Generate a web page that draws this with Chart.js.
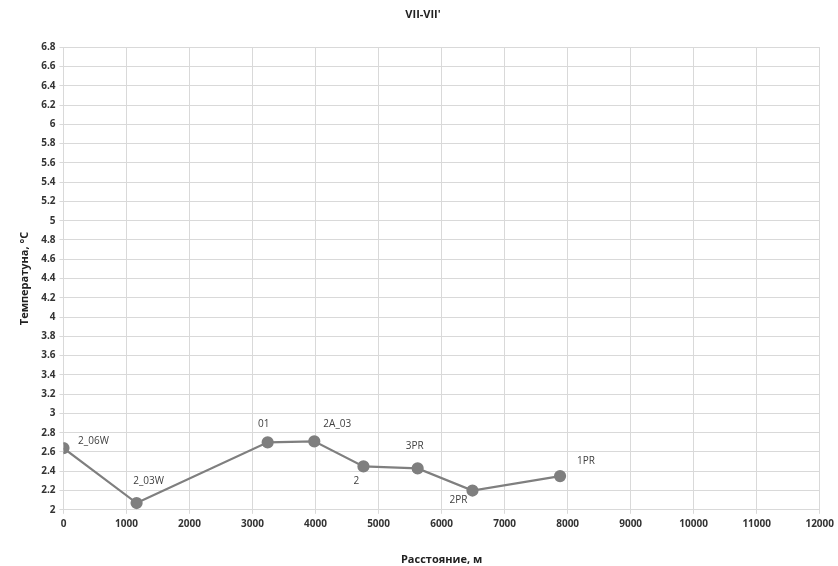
<!DOCTYPE html>
<html>
<head>
<meta charset="utf-8">
<script src="https://cdn.jsdelivr.net/npm/chart.js@4"></script>
<style>
  body { margin: 0; background: #fff; }
  #wrap { width: 838px; height: 566px; }
</style>
</head>
<body>
<div id="wrap"><canvas id="profile" width="838" height="566"></canvas></div>
<script>
// data
const wells = ["2_06W", "2_03W", "01", "2A_03", "2", "3PR", "2PR", "1PR"];
const distance = [0, 1160, 3240, 3980, 4760, 5620, 6490, 7880];
const temperature = [2.64, 2.07, 2.70, 2.71, 2.45, 2.43, 2.20, 2.35];

// where each name sits relative to its point (px)
const labelOffsets = [[30, -7], [12, -22], [-4, -18], [23, -17], [-7, 15], [-3, -22], [-14, 10], [26, -15]];

const pointNames = {
    id: 'pointNames',
    afterDatasetsDraw(chart) {
        const ctx = chart.ctx;
        const meta = chart.getDatasetMeta(0);
        ctx.save();
        ctx.font = '10px "Open Sans", sans-serif';
        ctx.fillStyle = '#404040';
        ctx.textAlign = 'center';
        ctx.textBaseline = 'middle';
        meta.data.forEach(function (pt, i) {
            ctx.fillText(wells[i], pt.x + labelOffsets[i][0], pt.y + labelOffsets[i][1]);
        });
        ctx.restore();
    }
};

new Chart(document.getElementById("profile"), {
    type: 'scatter',
    data: {
        datasets: [{
            label: "VII-VII'",
            data: distance.map(function (d, i) { return { x: d, y: temperature[i] }; }),
            showLine: true,
            borderColor: '#7f7f7f',
            backgroundColor: '#7f7f7f',
            borderWidth: 2.2,
            pointRadius: 5,
            pointHoverRadius: 5
        }]
    },
    options: {
        responsive: false,
        animation: false,
        layout: { padding: { left: 18, right: 10, top: 4, bottom: 0 } },
        plugins: {
            legend: { display: false },
            tooltip: { enabled: false },
            title: {
                display: true,
                text: "VII-VII'",
                color: '#222',
                font: { family: '"Open Sans", sans-serif', size: 11, weight: 'bold' },
                padding: { top: 4, bottom: 26 }
            }
        },
        scales: {
            x: {
                type: 'linear',
                min: 0,
                max: 12000,
                ticks: {
                    stepSize: 1000,
                    color: '#333',
                    font: { family: '"Open Sans", sans-serif', size: 10, weight: 'bold' },
                    padding: 4,
                    callback: function (v) { return String(v); }
                },
                grid: { color: '#d9d9d9', tickLength: 4 },
                border: { color: '#d9d9d9' },
                title: {
                    display: true,
                    text: 'Расстояние, м',
                    color: '#222',
                    font: { family: '"Open Sans", sans-serif', size: 11, weight: 'bold' },
                    padding: { top: 19, bottom: 0 }
                }
            },
            y: {
                min: 2,
                max: 6.8,
                ticks: {
                    stepSize: 0.2,
                    color: '#333',
                    font: { family: '"Open Sans", sans-serif', size: 10, weight: 'bold' },
                    padding: 4,
                    callback: function (v) { return Math.round(v * 10) / 10; }
                },
                grid: { color: '#d9d9d9', tickLength: 4 },
                border: { color: '#d9d9d9' },
                title: {
                    display: true,
                    text: 'Температуна, °C',
                    color: '#222',
                    font: { family: '"Open Sans", sans-serif', size: 11, weight: 'bold' },
                    padding: { top: 0, bottom: 6 }
                }
            }
        }
    },
    plugins: [pointNames]
});
</script>
</body>
</html>
